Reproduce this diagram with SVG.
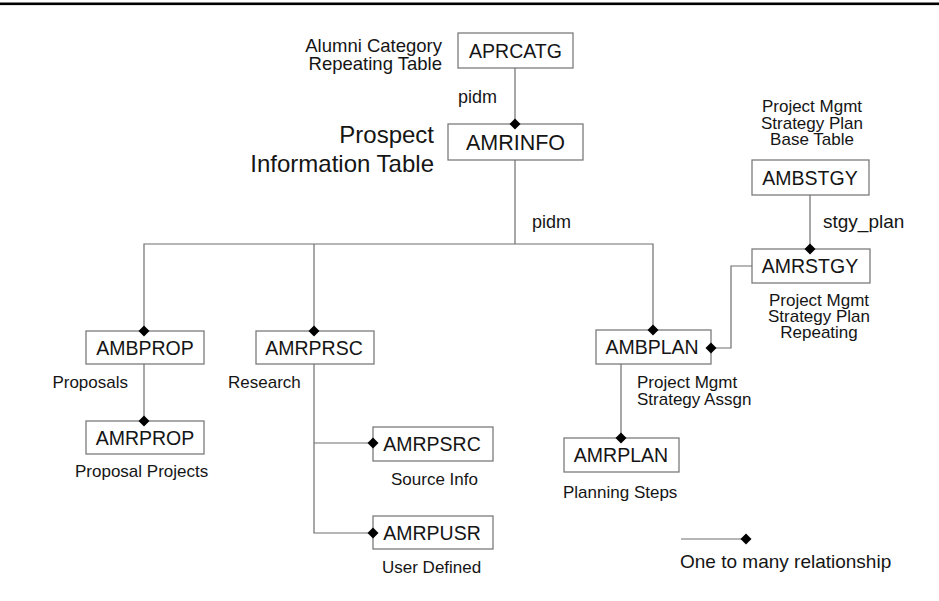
<svg xmlns="http://www.w3.org/2000/svg" width="939" height="601" viewBox="0 0 939 601">
  <style>
    text { font-family: "Liberation Sans", Arial, sans-serif; fill: #151515; }
    .box { fill: #ffffff; stroke: #7c7c7c; stroke-width: 1.3; }
    .name { font-size: 19.5px; text-anchor: middle; }
    .lbl { font-size: 17px; }
    .mid { text-anchor: middle; }
    .end { text-anchor: end; }
    .conn { fill: none; stroke: #6e6e6e; stroke-width: 1.2; }
    .dia { fill: #000000; }
  </style>
  <defs>
    <path id="diamond" d="M0,-5.5 L5.5,0 L0,5.5 L-5.5,0 Z" class="dia"/>
  </defs>

  <rect x="0" y="2.5" width="939" height="2.6" fill="#000000"/>

  <g id="APRCATG">
    <rect class="box" x="458" y="33" width="115" height="35"/>
    <text class="name" x="515.5" y="57.5">APRCATG</text>
    <text class="end" x="442" y="52" style="font-size:18.5px">Alumni Category</text>
    <text class="end" x="442" y="70" style="font-size:18.5px">Repeating Table</text>
  </g>

  <g id="AMRINFO">
    <rect class="box" x="448" y="124" width="135" height="36"/>
    <text class="name" x="515.5" y="149.5" style="font-size:21.5px">AMRINFO</text>
    <text class="end" x="434" y="143" style="font-size:24px">Prospect</text>
    <text class="end" x="434" y="172" style="font-size:24px">Information Table</text>
  </g>

  <g id="AMBPROP">
    <rect class="box" x="86" y="331" width="118" height="33"/>
    <text class="name" x="145" y="354.5">AMBPROP</text>
    <text class="lbl end" x="128" y="388">Proposals</text>
  </g>

  <g id="AMRPROP">
    <rect class="box" x="86" y="421" width="118" height="33"/>
    <text class="name" x="145" y="444.5">AMRPROP</text>
    <text class="lbl" x="75" y="477">Proposal Projects</text>
  </g>

  <g id="AMRPRSC">
    <rect class="box" x="256" y="331" width="118" height="33"/>
    <text class="name" x="314" y="354.5">AMRPRSC</text>
    <text class="lbl" x="228" y="388">Research</text>
  </g>

  <g id="AMRPSRC">
    <rect class="box" x="373" y="427" width="120" height="34"/>
    <text class="name" x="432" y="450.5">AMRPSRC</text>
    <text class="lbl" x="391" y="485">Source Info</text>
  </g>

  <g id="AMRPUSR">
    <rect class="box" x="373" y="516" width="120" height="33"/>
    <text class="name" x="432" y="539.5">AMRPUSR</text>
    <text class="lbl" x="382" y="573">User Defined</text>
  </g>

  <g id="AMBPLAN">
    <rect class="box" x="596" y="330" width="115" height="34"/>
    <text class="name" x="652" y="353.5">AMBPLAN</text>
    <text class="lbl" x="637" y="388">Project Mgmt</text>
    <text class="lbl" x="637" y="405">Strategy Assgn</text>
  </g>

  <g id="AMRPLAN">
    <rect class="box" x="564" y="438" width="115" height="34"/>
    <text class="name" x="621" y="461.5">AMRPLAN</text>
    <text class="lbl" x="563" y="498">Planning Steps</text>
  </g>

  <g id="AMBSTGY">
    <rect class="box" x="752" y="160" width="117" height="35"/>
    <text class="name" x="810" y="184.5">AMBSTGY</text>
    <text class="lbl mid" x="812" y="112">Project Mgmt</text>
    <text class="lbl mid" x="812" y="128.5">Strategy Plan</text>
    <text class="lbl mid" x="812" y="145">Base Table</text>
  </g>

  <g id="AMRSTGY">
    <rect class="box" x="752" y="249" width="118" height="34"/>
    <text class="name" x="810" y="272.5">AMRSTGY</text>
    <text class="lbl mid" x="819" y="306">Project Mgmt</text>
    <text class="lbl mid" x="819" y="322">Strategy Plan</text>
    <text class="lbl mid" x="819" y="338">Repeating</text>
  </g>

  <!-- connectors, drawn over the boxes so the "many" diamonds sit on the edges -->
  <g id="connectors">
    <path class="conn" d="M515,68 V124"/>
    <path class="conn" d="M515,160 V244"/>
    <path class="conn" d="M144,331 V244 H653 V330"/>
    <path class="conn" d="M314,244 V331"/>
    <path class="conn" d="M144,364 V421"/>
    <path class="conn" d="M314,364 V533 H373"/>
    <path class="conn" d="M314,443 H373"/>
    <path class="conn" d="M621,364 V438"/>
    <path class="conn" d="M711,348 H731 V266 H752"/>
    <path class="conn" d="M810,195 V249"/>
    <use href="#diamond" x="515" y="124"/>
    <use href="#diamond" x="144" y="331"/>
    <use href="#diamond" x="314" y="331"/>
    <use href="#diamond" x="653" y="330"/>
    <use href="#diamond" x="144" y="421"/>
    <use href="#diamond" x="373" y="443"/>
    <use href="#diamond" x="373" y="533"/>
    <use href="#diamond" x="621" y="438"/>
    <use href="#diamond" x="711" y="348"/>
    <use href="#diamond" x="810" y="249"/>
    <text x="458" y="103" style="font-size:18px">pidm</text>
    <text x="532" y="228" style="font-size:18px">pidm</text>
    <text x="823" y="228" style="font-size:19px">stgy_plan</text>
  </g>

  <g id="legend">
    <path class="conn" d="M681,539 H746"/>
    <use href="#diamond" x="746" y="539"/>
    <text x="680" y="568" style="font-size:19px">One to many relationship</text>
  </g>
</svg>
